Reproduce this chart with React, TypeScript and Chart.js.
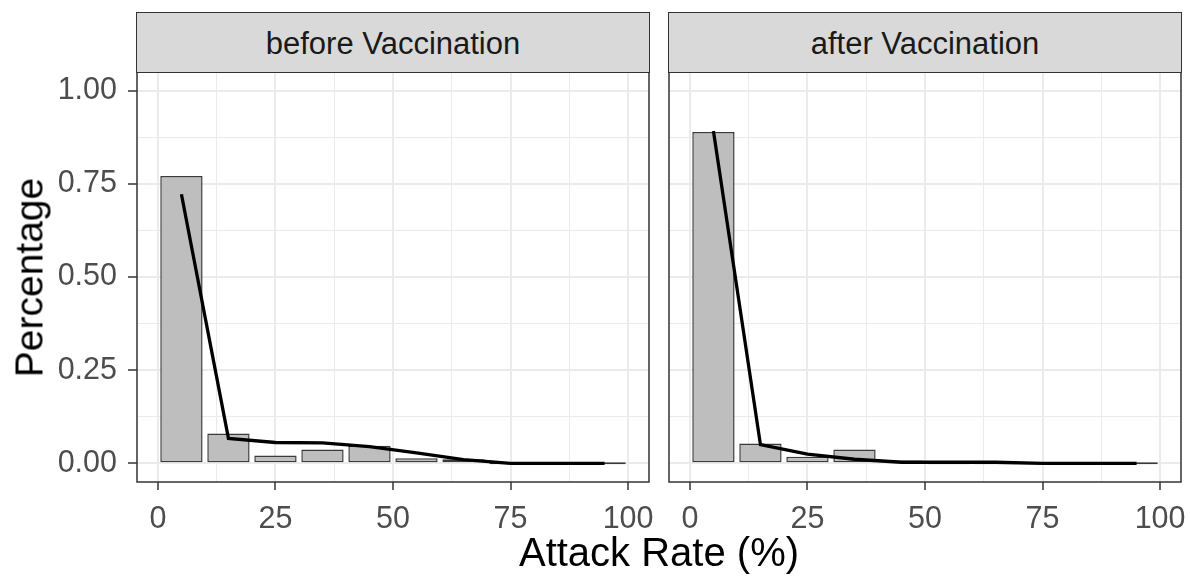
import React, { useEffect, useRef } from 'react';
import { Chart, registerables } from 'chart.js';

Chart.register(...registerables);

const binCenters = [5, 15, 25, 35, 45, 55, 65, 75, 85, 95];
const beforeBars = [0.771, 0.080, 0.021, 0.037, 0.047, 0.014, 0.011, 0, 0, 0];
const beforeLine = [0.722, 0.067, 0.056, 0.055, 0.045, 0.028, 0.010, 0, 0, 0];
const afterBars = [0.889, 0.053, 0.018, 0.037, 0.008, 0, 0, 0, 0, 0];
const afterLine = [0.892, 0.050, 0.025, 0.011, 0.003, 0.003, 0.003, 0, 0, 0];
const xTickLabels = [0, 25, 50, 75, 100];
const xMinorTicks = [12.5, 37.5, 62.5, 87.5];
const yTickLabels = [0, 0.25, 0.5, 0.75, 1];
const yMinorTicks = [0.125, 0.375, 0.625, 0.875];
const panelTitles = ['before Vaccination', 'after Vaccination'];
const xTitle = 'Attack Rate (%)';
const yTitle = 'Percentage';

const FONT = '"Liberation Sans", Arial, Helvetica, sans-serif';

const isMajor = (arr: number[], v: any) =>
  typeof v === 'number' && arr.some((m) => Math.abs(m - v) < 1e-9);

const panelBorder = {
  id: 'panelBorder',
  afterDraw(chart: any) {
    const { ctx, chartArea: a } = chart;
    ctx.save();
    ctx.strokeStyle = '#333333';
    ctx.lineWidth = 1.5;
    ctx.strokeRect(a.left, a.top, a.right - a.left, a.bottom - a.top);
    ctx.restore();
  },
};

type PanelProps = {
  bars: number[];
  line: number[];
  showY: boolean;
  left: number;
  width: number;
  padRight: number;
  yWidth: number;
};

function Panel({ bars, line, showY, left, width, padRight, yWidth }: PanelProps) {
  const ref = useRef<HTMLCanvasElement | null>(null);
  useEffect(() => {
    if (!ref.current) return;
    const chart = new Chart(ref.current, {
      type: 'bar',
      data: {
        datasets: [
          {
            type: 'line',
            data: binCenters.map((x, i) => ({ x, y: line[i] })),
            borderColor: '#000000',
            borderWidth: 3.3,
            pointRadius: 0,
            tension: 0,
            fill: false,
            order: 1,
          } as any,
          {
            type: 'bar',
            data: binCenters.map((x, i) => ({ x, y: bars[i] })),
            backgroundColor: '#BEBEBE',
            borderColor: '#3A3A3A',
            borderWidth: 1.5,
            borderSkipped: false,
            barPercentage: 0.9,
            categoryPercentage: 1,
            minBarLength: 2,
            order: 2,
          } as any,
        ],
      },
      options: {
        animation: false,
        responsive: false,
        maintainAspectRatio: false,
        layout: { padding: { top: 10, right: padRight, left: 0, bottom: 0 } },
        plugins: {
          legend: { display: false },
          tooltip: { enabled: false },
          title: { display: false },
        },
        scales: {
          x: {
            type: 'linear',
            min: -4.45,
            max: 104.45,
            offset: false,
            afterBuildTicks: (s: any) => {
              s.ticks = [...xTickLabels, ...xMinorTicks]
                .sort((a, b) => a - b)
                .map((v) => ({ value: v }));
            },
            afterFit: (s: any) => {
              s.height = 58;
              s.paddingLeft = 0;
              s.paddingRight = 0;
              s.paddingTop = 0;
              s.paddingBottom = 0;
            },
            ticks: {
              autoSkip: false,
              maxRotation: 0,
              minRotation: 0,
              padding: 11,
              color: '#4D4D4D',
              font: { family: FONT, size: 30.5 },
              callback: (v: any) => (isMajor(xTickLabels, v) ? String(v) : ''),
            },
            grid: {
              offset: false,
              color: '#EBEBEB',
              lineWidth: (c: any) => (isMajor(xTickLabels, c.tick?.value) ? 2 : 1),
              tickLength: 8,
              tickWidth: 1.5,
              tickColor: (c: any) => (isMajor(xTickLabels, c.tick?.value) ? '#333333' : 'rgba(0,0,0,0)'),
            },
            border: { display: false },
          },
          y: {
            type: 'linear',
            min: -0.05,
            max: 1.05,
            afterBuildTicks: (s: any) => {
              s.ticks = [...yTickLabels, ...yMinorTicks]
                .sort((a, b) => a - b)
                .map((v) => ({ value: v }));
            },
            afterFit: (s: any) => {
              s.width = yWidth;
              s.paddingLeft = 0;
              s.paddingRight = 0;
              s.paddingTop = 0;
              s.paddingBottom = 0;
            },
            ticks: {
              display: showY,
              autoSkip: false,
              padding: 11,
              color: '#4D4D4D',
              font: { family: FONT, size: 30.5 },
              callback: (v: any) => (isMajor(yTickLabels, v) ? Number(v).toFixed(2) : ''),
            },
            grid: {
              color: '#EBEBEB',
              lineWidth: (c: any) => (isMajor(yTickLabels, c.tick?.value) ? 2 : 1),
              drawTicks: showY,
              tickLength: 9,
              tickWidth: 1.5,
              tickColor: (c: any) => (isMajor(yTickLabels, c.tick?.value) ? '#333333' : 'rgba(0,0,0,0)'),
            },
            border: { display: false },
          },
        },
      } as any,
      plugins: [panelBorder],
    });
    return () => chart.destroy();
  }, []);
  return (
    <canvas
      ref={ref}
      width={width}
      height={478}
      style={{ position: 'absolute', left, top: 62, width, height: 478 }}
    />
  );
}

const stripStyle = (left: number): React.CSSProperties => ({
  position: 'absolute',
  left,
  top: 12,
  width: 513.5,
  height: 60.75,
  boxSizing: 'border-box',
  border: '1.5px solid #333333',
  background: '#D9D9D9',
  display: 'flex',
  alignItems: 'center',
  justifyContent: 'center',
  fontFamily: FONT,
  fontSize: 31,
  color: '#1A1A1A',
  paddingTop: 3,
  whiteSpace: 'nowrap',
});

export default function App() {
  return (
    <div
      style={{
        position: 'absolute',
        left: 0,
        top: 0,
        width: 1190,
        height: 577,
        background: '#FFFFFF',
        overflow: 'hidden',
      }}
    >
      <Panel bars={beforeBars} line={beforeLine} showY={true} left={0} width={655} padRight={6} yWidth={137} />
      <Panel bars={afterBars} line={afterLine} showY={false} left={655} width={535} padRight={9} yWidth={14} />
      <div style={stripStyle(136.25)}>{panelTitles[0]}</div>
      <div style={stripStyle(668.25)}>{panelTitles[1]}</div>
      <div
        style={{
          position: 'absolute',
          left: 137,
          width: 1044,
          top: 532,
          height: 40,
          lineHeight: '40px',
          textAlign: 'center',
          fontFamily: FONT,
          fontSize: 40,
          color: '#000000',
          whiteSpace: 'nowrap',
        }}
      >
        {xTitle}
      </div>
      <div
        style={{
          position: 'absolute',
          left: 28.5 - 150,
          top: 277 - 19.5,
          width: 300,
          height: 39,
          lineHeight: '39px',
          textAlign: 'center',
          fontFamily: FONT,
          fontSize: 39,
          color: '#000000',
          whiteSpace: 'nowrap',
          transform: 'rotate(-90deg)',
          transformOrigin: '50% 50%',
        }}
      >
        {yTitle}
      </div>
    </div>
  );
}
